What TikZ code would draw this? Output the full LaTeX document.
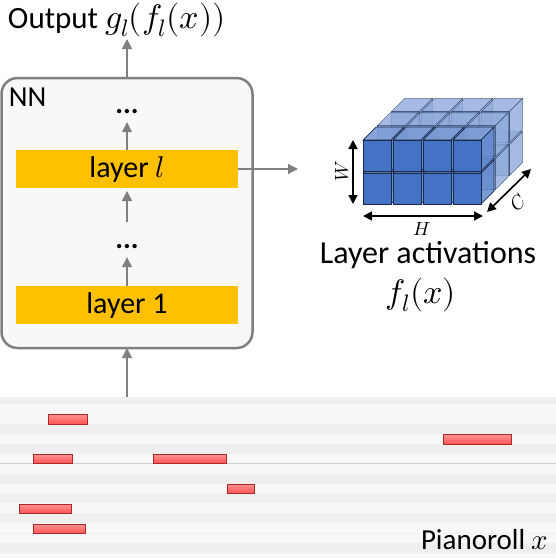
\documentclass[tikz,border=0pt]{standalone}
\usepackage{fontspec}
\setmainfont{Carlito}
\usepackage{unicode-math}
\setmathfont{Latin Modern Math}
\usetikzlibrary{arrows.meta}
\definecolor{layerorange}{HTML}{FFC000}
\definecolor{nnfill}{HTML}{F8F8F8}
\definecolor{boxgray}{HTML}{7F7F7F}
\definecolor{arrowgray}{HTML}{808080}
\definecolor{cubefront}{HTML}{4472C4}
\definecolor{cubetop}{HTML}{7C9BD6}
\definecolor{cuberight}{HTML}{6088CE}
\definecolor{cubeback}{HTML}{8FAADC}
\definecolor{cubeedge}{HTML}{1A2A4A}
\definecolor{rowlight}{HTML}{F8F8F8}
\definecolor{rowdark}{HTML}{EFEFEF}
\definecolor{rowline}{HTML}{D0D0D0}
\definecolor{notetop}{HTML}{FF9494}
\definecolor{notebot}{HTML}{FF5555}
\definecolor{noteedge}{HTML}{B02828}
\newcommand{\mathbig}{\fontsize{34}{37}\selectfont}
\begin{document}
\begin{tikzpicture}[x=1pt,y=-1pt,
  lbl/.style={font=\fontsize{29}{32}\selectfont, inner sep=0pt, outer sep=0pt},
  outlbl/.style={font=\fontsize{31}{34}\selectfont, inner sep=0pt, outer sep=0pt},
  biglbl/.style={font=\fontsize{32}{35}\selectfont, inner sep=0pt, outer sep=0pt},
  small/.style={font=\fontsize{19}{22}\selectfont, inner sep=0pt, outer sep=0pt},
  layerbox/.style={fill=layerorange, minimum width=222pt, minimum height=38pt, inner sep=0pt, outer sep=0pt, font=\fontsize{30}{32}\selectfont},
  garrow/.style={draw=arrowgray, line width=1.3pt, -{Triangle[length=10pt,width=10pt]}},
  karrow/.style={draw=black, line width=1.6pt, {Triangle[length=9pt,width=9pt]}-{Triangle[length=9pt,width=9pt]}},
  cubeF/.style={fill=cubefront, draw=cubeedge, line width=0.7pt},
  cubeT/.style={fill=cubetop, draw=cubeedge, line width=0.7pt},
  cubeR/.style={fill=cuberight, draw=cubeedge, line width=0.7pt},
  cubeB/.style={fill=cubeback, fill opacity=0.8, draw=cubeedge, draw opacity=0.6, line width=0.6pt},
  note/.style={top color=notetop, bottom color=notebot, draw=noteedge, line width=0.8pt}
]
\useasboundingbox (0,0) rectangle (556,558);

% ---- pianoroll background ----
\fill[rowlight] (0,397) rectangle (556,558);
\foreach \a/\b in {397/404,424/434,444/454,474/484,493/503,513/523,543/553}
  \fill[rowdark] (0,\a) rectangle (556,\b);
\draw[rowline, line width=1pt] (0,463) -- (556,463);
\draw[rowdark!80!white, line width=0.6pt] (0,414) -- (556,414);
\draw[rowdark!80!white, line width=0.6pt] (0,533) -- (556,533);
% notes
\foreach \xa/\xb/\ya/\yb in {48/87/414/424, 443/511/434/444, 33/72/454/463, 153/226/454/463, 227/254/484/493, 19/71/504/513, 33/85/524/533}
  \draw[note] (\xa,\ya) rectangle (\xb,\yb);
\node[lbl, anchor=base west] (pr) at (421,549) {Pianoroll $x$};
\coordinate (prtop) at (127,397);

% ---- NN box ----
\node[draw=boxgray, line width=2.5pt, fill=nnfill, rounded corners=16pt,
      minimum width=251pt, minimum height=270pt, inner sep=0pt, outer sep=0pt] (nn) at (127,213) {};
\node[lbl, anchor=base west] (nnlabel) at (9,106) {NN};
\node[lbl, anchor=base] (dots1) at (127,113) {\textbf{...}};
\node[lbl, anchor=base] (dots2) at (127,248) {\textbf{...}};
\node[layerbox] (ll) at (127,169) {layer $l$};
\node[layerbox] (l1) at (127,305) {layer 1};

\draw[garrow, shorten >=9pt] (l1.north) -- (dots2.south);
\draw[garrow, shorten <=22pt, shorten >=3pt] (dots2.north) -- (ll.south);
\draw[garrow, shorten >=9pt] (ll.north) -- (dots1.south);
\draw[garrow] (prtop) -- (nn.south);

% ---- output ----
\node[outlbl, anchor=base west] (out) at (8,28) {Output {\mathbig$g_l(f_l(x))$}};
\coordinate (outtip) at (127,39);
\draw[garrow] (nn.north) -- (outtip);

% ---- activations ----
\coordinate (act) at (298,169);
\draw[garrow] (ll.east) -- (act);

% cubes: back layers first
\foreach \d in {2,1} {
  \foreach \r in {1,0} {
    \foreach \c in {0,1,2,3} {
      \pgfmathsetmacro{\X}{363+30*\c+14.3*\d}
      \pgfmathsetmacro{\Y}{140+33*\r-14.3*\d}
      \draw[cubeB] (\X,\Y) rectangle ++(28,31);
      \draw[cubeB] (\X,\Y) -- ++(13,-13) -- ++(28,0) -- ++(-13,13) -- cycle;
      \draw[cubeB] (\X+28,\Y) -- ++(13,-13) -- ++(0,31) -- ++(-13,13) -- cycle;
    }
  }
}
\foreach \r in {1,0} {
  \foreach \c in {0,1,2,3} {
    \pgfmathsetmacro{\X}{363+30*\c}
    \pgfmathsetmacro{\Y}{140+33*\r}
    \draw[cubeT, fill opacity=0.9] (\X,\Y) -- ++(13,-13) -- ++(28,0) -- ++(-13,13) -- cycle;
    \draw[cubeR, fill opacity=0.85] (\X+28,\Y) -- ++(13,-13) -- ++(0,31) -- ++(-13,13) -- cycle;
    \draw[cubeF] (\X,\Y) rectangle ++(28,31);
  }
}

\coordinate (wa) at (353,140);
\coordinate (wb) at (353,204);
\draw[karrow] (wa) -- (wb);
\node[small, rotate=90] (wl) at (342,171) {$W$};
\coordinate (ha) at (363,216);
\coordinate (hb) at (483,216);
\draw[karrow] (ha) -- (hb);
\node[small] (hl) at (422,229) {$H$};
\coordinate (ca) at (487,212);
\coordinate (cb) at (531,169);
\draw[karrow] (ca) -- (cb);
\node[small, rotate=45] (cl) at (518,203) {$C$};

\node[biglbl, anchor=base] (lact) at (428,263) {Layer activations};
\node[anchor=base, inner sep=0pt, font=\mathbig] (fx) at (421,303) {$f_l(x)$};
\end{tikzpicture}
\end{document}
